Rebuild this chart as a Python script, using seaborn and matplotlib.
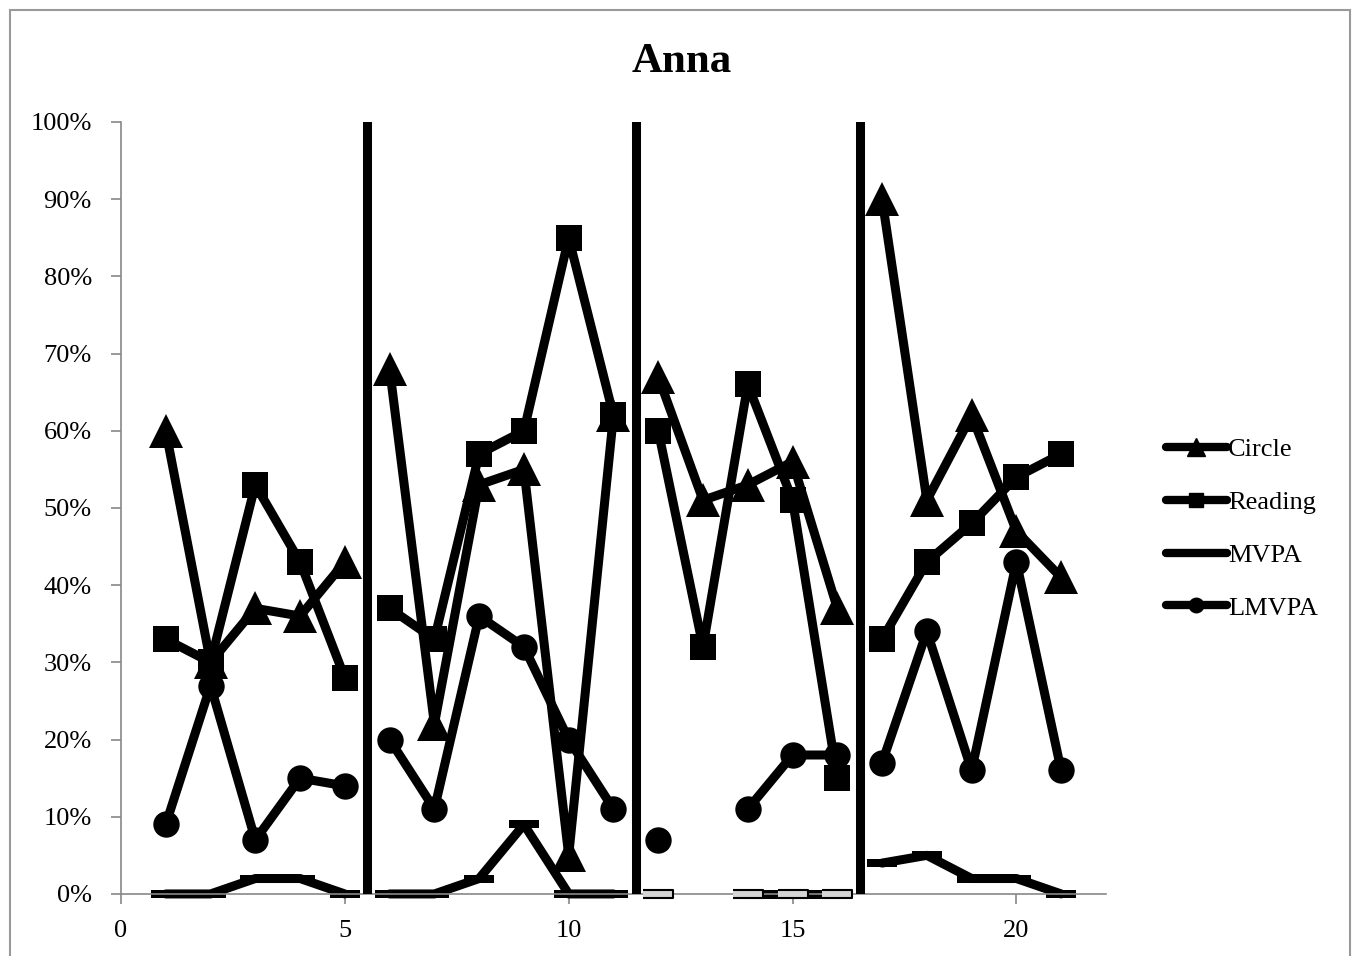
import numpy as np
import pandas as pd
import seaborn as sns
import matplotlib.pyplot as plt
from matplotlib.lines import Line2D
from matplotlib.patches import Rectangle

# sessions and the measured percentages (None = no observation)
sessions = list(range(1, 22))
circle = [60, 30, 37, 36, 43,
          68, 22, 53, 55, 5, 62,
          67, 51, 53, 56, 37,
          90, 51, 62, 47, 41]
reading = [33, 30, 53, 43, 28,
           37, 33, 57, 60, 85, 62,
           60, 32, 66, 51, 15,
           33, 43, 48, 54, 57]
mvpa = [0, 0, 2, 2, 0,
        0, 0, 2, 9, 0, 0,
        0, None, 0, 0, 0,
        4, 5, 2, 2, 0]
lmvpa = [9, 27, 7, 15, 14,
         20, 11, 36, 32, 20, 11,
         7, None, 11, 18, 18,
         17, 34, 16, 43, 16]
phase_breaks = [5.5, 11.5, 16.5]
grey_phase = 2  # MVPA markers drawn hollow-grey in the third phase

sns.set_style('white')
plt.rcParams['font.family'] = ['Liberation Serif', 'DejaVu Serif']
plt.rcParams['text.color'] = 'black'

fig = plt.figure(figsize=(13.58, 9.56), dpi=100)
ax = fig.add_axes([0.0891, 0.0649, 0.8144 - 0.0891, 0.8724 - 0.0649])

dash = [(-1, -0.3), (1, -0.3), (1, 0.3), (-1, 0.3)]
series = [
    ('Circle', circle, '^', 24),
    ('Reading', reading, 's', 19),
    ('MVPA', mvpa, dash, 21),
    ('LMVPA', lmvpa, 'o', 19),
]


def build(name, values):
    df = pd.DataFrame({'session': sessions, 'value': values}, dtype=float)
    df['phase'] = np.searchsorted(phase_breaks, df['session'])
    df['gap'] = df['value'].isna().cumsum()
    df['seg'] = df['phase'].astype(str) + '-' + df['gap'].astype(str)
    df['measure'] = name
    return df.dropna(subset=['value'])


for name, values, marker, ms in series:
    df = build(name, values)
    if name == 'MVPA':
        main = df[df['phase'] != grey_phase]
        grey = df[df['phase'] == grey_phase]
    else:
        main, grey = df, df.iloc[0:0]
    sns.lineplot(data=main, x='session', y='value', units='seg', estimator=None,
                 color='black', lw=6.5, marker=marker, markersize=ms,
                 markeredgecolor='black', markerfacecolor='black', markeredgewidth=0,
                 solid_joinstyle='round', clip_on=False, ax=ax, legend=False)
    if len(grey):
        sns.lineplot(data=grey, x='session', y='value', units='seg', estimator=None,
                     color='black', lw=6.5, clip_on=False, ax=ax, legend=False)
        ax.plot(grey['session'], grey['value'], ls='none', marker=marker,
                markersize=ms, markeredgecolor='black', markerfacecolor='#d4d4d4',
                markeredgewidth=1.5, zorder=4, clip_on=False)

for xb in phase_breaks:
    ax.axvline(xb, color='black', lw=6.5, zorder=5)

ax.set_xlim(0, 22)
ax.set_ylim(0, 100)
ax.set_xticks([0, 5, 10, 15, 20])
ax.set_yticks(range(0, 101, 10))
ax.set_yticklabels([f'{v}%' for v in range(0, 101, 10)])
ax.set_xlabel('')
ax.set_ylabel('')
ax.tick_params(axis='both', labelsize=19, colors='#888888', labelcolor='black',
               direction='out', length=7, width=1.2, left=True, bottom=True)
ax.tick_params(axis='y', pad=14)
ax.tick_params(axis='x', pad=12)
for s in ['top', 'right']:
    ax.spines[s].set_visible(False)
for s in ['left', 'bottom']:
    ax.spines[s].set_color('#888888')
    ax.spines[s].set_linewidth(1.2)

handles = [Line2D([], [], color='black', lw=6,
                  marker=(m if n != 'MVPA' else None), markersize=ms * 0.55,
                  solid_capstyle='round')
           for n, _, m, ms in series]
fig.legend(handles, [s[0] for s in series], loc='center left',
           bbox_to_anchor=(0.841, 0.447), frameon=False, fontsize=19,
           handlelength=2.3, handletextpad=0.05, labelspacing=1.11)

fig.text(0.502, 0.935, 'Anna', ha='center', va='center', fontsize=31,
         fontweight='bold', color='black')
fig.patches.append(Rectangle((0.0074, -0.01), 0.9867, 1.0, transform=fig.transFigure,
                             fill=False, edgecolor='#999999', lw=1.5))

fig.savefig('out.png', dpi=100)
